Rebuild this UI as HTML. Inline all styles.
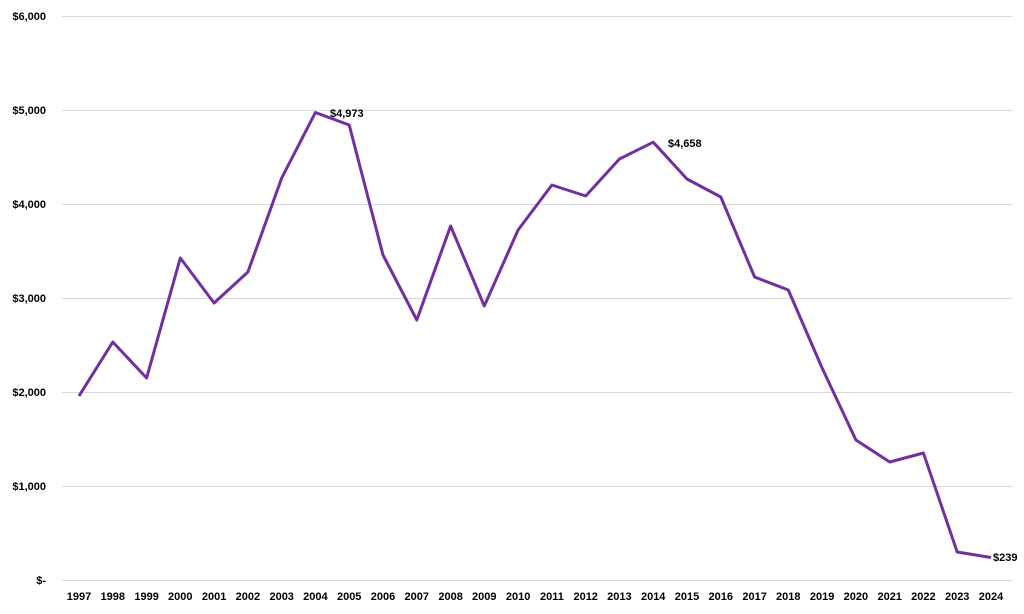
<!DOCTYPE html>
<html><head><meta charset="utf-8"><style>
html,body{margin:0;padding:0;background:#fff;}
svg{display:block;}
text{font-family:"Liberation Sans",Arial,sans-serif;font-size:11px;font-weight:bold;fill:#000;}
</style></head><body>
<svg width="1024" height="614" viewBox="0 0 1024 614">
<g stroke="#d9d9d9" stroke-width="1">
<line x1="62" y1="16.5" x2="1012" y2="16.5"/>
<line x1="62" y1="110.5" x2="1012" y2="110.5"/>
<line x1="62" y1="204.5" x2="1012" y2="204.5"/>
<line x1="62" y1="298.5" x2="1012" y2="298.5"/>
<line x1="62" y1="392.5" x2="1012" y2="392.5"/>
<line x1="62" y1="486.5" x2="1012" y2="486.5"/>
<line x1="62" y1="580.5" x2="1012" y2="580.5"/>
</g>
<g text-anchor="end">
<text x="46" y="20">$6,000</text>
<text x="46" y="114">$5,000</text>
<text x="46" y="208">$4,000</text>
<text x="46" y="302">$3,000</text>
<text x="46" y="396">$2,000</text>
<text x="46" y="490">$1,000</text>
<text x="46" y="584">$-</text>
</g>
<g text-anchor="middle">
<text x="79" y="600">1997</text><text x="112.8" y="600">1998</text><text x="146.6" y="600">1999</text><text x="180.3" y="600">2000</text>
<text x="214.1" y="600">2001</text><text x="247.9" y="600">2002</text><text x="281.7" y="600">2003</text><text x="315.4" y="600">2004</text>
<text x="349.2" y="600">2005</text><text x="383" y="600">2006</text><text x="416.8" y="600">2007</text><text x="450.6" y="600">2008</text>
<text x="484.3" y="600">2009</text><text x="518.1" y="600">2010</text><text x="551.9" y="600">2011</text><text x="585.7" y="600">2012</text>
<text x="619.4" y="600">2013</text><text x="653.2" y="600">2014</text><text x="687" y="600">2015</text><text x="720.8" y="600">2016</text>
<text x="754.6" y="600">2017</text><text x="788.3" y="600">2018</text><text x="822.1" y="600">2019</text><text x="855.9" y="600">2020</text>
<text x="889.7" y="600">2021</text><text x="923.4" y="600">2022</text><text x="957.2" y="600">2023</text><text x="991" y="600">2024</text>
</g>
<polyline fill="none" stroke="#7030a0" stroke-width="3" stroke-linejoin="round" points="79,396 112.8,342 146.6,378 180.3,258 214.1,303 247.9,272 281.7,178 315.4,112.5 349.2,125 383,255 416.8,320 450.6,226 484.3,306 518.1,230 551.9,185 585.7,196 619.4,159 653.2,142.2 687,179 720.8,197 754.6,277 788.3,290 822.1,368 855.9,440 889.7,462 923.4,453 957.2,552 991,557.5"/>
<text x="330" y="117">$4,973</text>
<text x="668" y="147">$4,658</text>
<text x="993" y="561">$239</text>
</svg>
</body></html>
